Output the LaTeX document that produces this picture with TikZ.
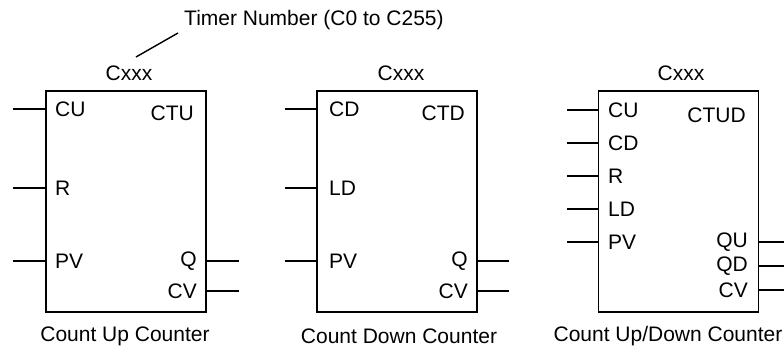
\documentclass[tikz,border=0pt]{standalone}
\usepackage{fontspec}
\setmainfont{Liberation Sans}
\begin{document}
\begin{tikzpicture}[x=1pt,y=-1pt,
  every node/.style={font=\fontsize{21}{25}\selectfont, inner sep=0pt},
  blk/.style={draw, line width=1.6pt, minimum width=160pt, minimum height=221pt},
  wire/.style={line width=1.6pt},
  pinl/.style={anchor=west},
  pinr/.style={anchor=east}]
\useasboundingbox (0,0) rectangle (784,352);
% blocks
\node[blk] (b1) at (126,201.5) {};
\node[blk] (b2) at (397,201.5) {};
\node[blk] (b3) at (678.5,201.5) {};
% titles
\node (c1) at (129,73) {Cxxx};
\node (c2) at (401,73) {Cxxx};
\node (c3) at (681,73) {Cxxx};
\node[anchor=west] (tn) at (184,20) {Timer Number (C0 to C255)};
\coordinate (tl1) at (136,57);
\coordinate (tl2) at (178,33);
\draw[wire, line width=1.4pt] (tl1) -- (tl2);
% block types
\node[pinr] (t1) at (194,113) {CTU};
\node[pinr] (t2) at (465,113) {CTD};
\node[pinr] (t3) at (746,115) {CTUD};
% block 1 pins
\foreach \y/\t [count=\i] in {109/CU,188/R,261/PV} {
  \coordinate (l1\i) at (13,\y);
  \node[pinl] (n1\i) at (55,\y) {\t};
  \draw[wire] (l1\i) -- (l1\i -| b1.west);
}
\foreach \y/\t [count=\i] in {261/Q,291/CV} {
  \coordinate (r1\i) at (239,\y);
  \node[pinr] (m1\i) at (197,\y) {\t};
  \draw[wire] (r1\i) -- (r1\i -| b1.east);
}
% block 2 pins
\foreach \y/\t [count=\i] in {109/CD,188/LD,261/PV} {
  \coordinate (l2\i) at (285,\y);
  \node[pinl] (n2\i) at (329,\y) {\t};
  \draw[wire] (l2\i) -- (l2\i -| b2.west);
}
\foreach \y/\t [count=\i] in {261/Q,291/CV} {
  \coordinate (r2\i) at (509,\y);
  \node[pinr] (m2\i) at (468,\y) {\t};
  \draw[wire] (r2\i) -- (r2\i -| b2.east);
}
% block 3 pins
\foreach \y/\t [count=\i] in {110/CU,143/CD,176/R,209/LD,242/PV} {
  \coordinate (l3\i) at (567,\y);
  \node[pinl] (n3\i) at (608,\y) {\t};
  \draw[wire] (l3\i) -- (l3\i -| b3.west);
}
\foreach \y/\t [count=\i] in {242/QU,266/QD,290/CV} {
  \coordinate (r3\i) at (786,\y);
  \node[pinr] (m3\i) at (748,\y) {\t};
  \draw[wire] (r3\i) -- (r3\i -| b3.east);
}
% captions
\node (k1) at (125,336) {Count Up Counter};
\node (k2) at (399,336) {Count Down Counter};
\node (k3) at (668,336) {Count Up/Down Counter};
\end{tikzpicture}
\end{document}
